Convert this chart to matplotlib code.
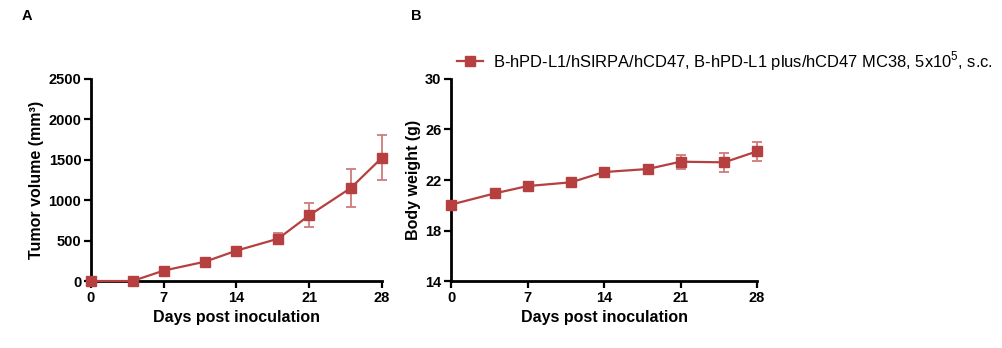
import matplotlib
matplotlib.use("Agg")
import matplotlib.pyplot as plt

plt.rcParams['font.family'] = ['Liberation Sans', 'DejaVu Sans']
plt.rcParams['mathtext.fontset'] = 'custom'
plt.rcParams['mathtext.rm'] = 'Liberation Sans'
plt.rcParams['mathtext.bf'] = 'Liberation Sans:bold'

days = [0, 4, 7, 11, 14, 18, 21, 25, 28]
tumor_mean = [0, 0, 129, 240, 376, 523, 813, 1151, 1526]
tumor_err = [0, 0, 15, 20, 30, 70, 150, 235, 281]
weight_mean = [20.05, 20.94, 21.52, 21.82, 22.63, 22.87, 23.45, 23.4, 24.27]
weight_err = [0.15, 0.15, 0.15, 0.2, 0.3, 0.35, 0.55, 0.74, 0.73]

x_ticks = [0, 7, 14, 21, 28]
tumor_ticks = [0, 500, 1000, 1500, 2000, 2500]
weight_ticks = [14, 18, 22, 26, 30]

legend_label = 'B-hPD-L1/hSIRPA/hCD47, B-hPD-L1 plus/hCD47 MC38, 5x10$^{5}$, s.c.'

red = '#b5403f'
err_red = '#cf7c7b'

fig = plt.figure(figsize=(10.02, 3.48), dpi=100)
ax_a = fig.add_axes([0.0908, 0.1925, 0.2904, 0.5805])
ax_b = fig.add_axes([0.4501, 0.1925, 0.3054, 0.5805])


def style_axis(ax):
    for side in ['top', 'right']:
        ax.spines[side].set_visible(False)
    for side in ['left', 'bottom']:
        ax.spines[side].set_linewidth(2)
    ax.tick_params(width=1.6, length=5, labelsize=10.5, pad=2)
    for lab in ax.get_xticklabels() + ax.get_yticklabels():
        lab.set_fontweight('bold')


def draw_series(ax, y, yerr):
    ax.errorbar(days, y, yerr=yerr, fmt='none', ecolor=err_red,
                elinewidth=1.3, capsize=3.5, capthick=1.3, clip_on=False, zorder=2)
    line, = ax.plot(days, y, color=red, lw=1.6, marker='s', markersize=7,
                    clip_on=False, zorder=3)
    return line


draw_series(ax_a, tumor_mean, tumor_err)
ax_a.set_xlim(0, 28)
ax_a.set_ylim(0, 2500)
ax_a.set_xticks(x_ticks)
ax_a.set_yticks(tumor_ticks)
ax_a.set_xlabel('Days post inoculation', fontsize=11.5, fontweight='bold', labelpad=4)
ax_a.set_ylabel('Tumor volume (mm\u00b3)', fontsize=11.5, fontweight='bold', labelpad=3)
style_axis(ax_a)

line_b = draw_series(ax_b, weight_mean, weight_err)
ax_b.set_xlim(0, 28)
ax_b.set_ylim(14, 30)
ax_b.set_xticks(x_ticks)
ax_b.set_yticks(weight_ticks)
ax_b.set_xlabel('Days post inoculation', fontsize=11.5, fontweight='bold', labelpad=4)
ax_b.set_ylabel('Body weight (g)', fontsize=11.5, fontweight='bold', labelpad=3)
style_axis(ax_b)

fig.legend([line_b], [legend_label], loc='center left',
           bbox_to_anchor=(0.449, 1 - 61 / 348), frameon=False,
           fontsize=11.9, handlelength=1.6, handletextpad=0.6, borderaxespad=0)

fig.text(0.022, 0.954, 'A', fontsize=10.5, fontweight='bold', va='center')
fig.text(0.41, 0.954, 'B', fontsize=10.5, fontweight='bold', va='center')

fig.savefig('out.png', dpi=100)
